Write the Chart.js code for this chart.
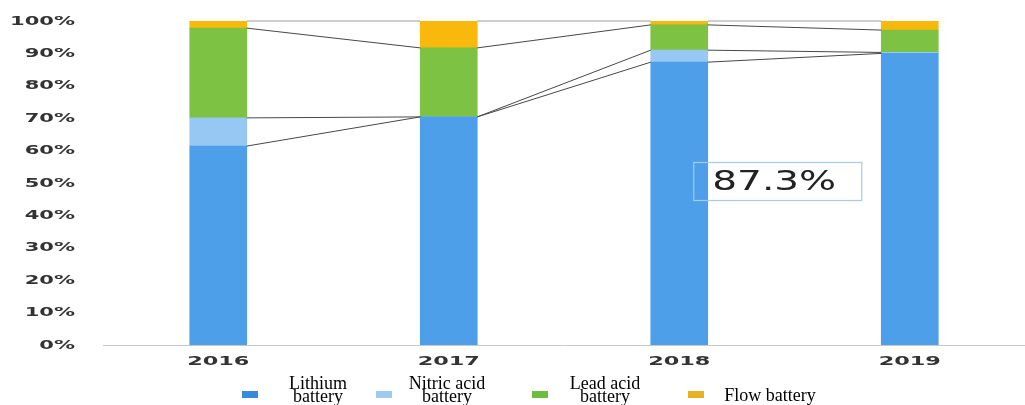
<!DOCTYPE html>
<html>
<head>
<meta charset="utf-8">
<script src="https://cdn.jsdelivr.net/npm/chart.js@4/dist/chart.umd.min.js"></script>
<style>
  html, body { margin: 0; padding: 0; background: #fff; }
  #wrap { width: 1025px; height: 405px; position: relative; }
</style>
</head>
<body>
<div id="wrap"><canvas id="c" width="1025" height="405"></canvas></div>
<script>
// ---- data ----
const years = ['2016', '2017', '2018', '2019'];
const lithium = [61.4, 70.4, 87.3, 90.0];
const nitricAcid = [8.7, 0.0, 3.7, 0.3];
const leadAcid = [27.7, 21.3, 7.8, 6.9];
const flow = [2.2, 8.3, 1.2, 2.8];
const seriesNames = [['Lithium', 'battery'], ['Nitric acid', 'battery'], ['Lead acid', 'battery'], ['Flow battery']];
const yTicks = [0, 10, 20, 30, 40, 50, 60, 70, 80, 90, 100];
const calloutIndex = 2; // 2018 lithium share callout

const barColors = ['#4c9fe8', '#97c8f3', '#7dc242', '#f8b90c'];
const legendColors = ['#3a8ad8', '#9ccaf0', '#6cbf3e', '#e9b222'];

function stretchText(ctx, text, x, y, align, sx) {
  ctx.save();
  ctx.translate(x, y);
  ctx.scale(sx, 1);
  ctx.textAlign = align;
  ctx.fillText(text, 0, 0);
  ctx.restore();
}

const customDraw = {
  id: 'customDraw',
  afterDatasetsDraw(chart) {
    const ctx = chart.ctx;
    const ys = chart.scales.y;
    const ds = chart.data.datasets;
    const metas = ds.map((d, i) => chart.getDatasetMeta(i));
    const n = chart.data.labels.length;
    // connector lines between stacked segment tops
    for (let i = 0; i < n - 1; i++) {
      const b0 = metas[0].data[i], b1 = metas[0].data[i + 1];
      const xr = b0.x + b0.width / 2, xl = b1.x - b1.width / 2;
      let c0 = 0, c1 = 0;
      for (let k = 0; k < ds.length; k++) {
        c0 += ds[k].data[i]; c1 += ds[k].data[i + 1];
        ctx.save();
        ctx.beginPath();
        ctx.lineWidth = 1;
        ctx.strokeStyle = (k === ds.length - 1) ? '#9a9a9a' : '#474747';
        ctx.moveTo(xr, ys.getPixelForValue(Math.min(c0, 100)));
        ctx.lineTo(xl, ys.getPixelForValue(Math.min(c1, 100)));
        ctx.stroke();
        ctx.restore();
      }
    }
    // callout box
    const bar = metas[0].data[calloutIndex];
    const bx = bar.x + 14, by = ys.getPixelForValue(50) - 21;
    ctx.save();
    ctx.strokeStyle = '#a9c9ea';
    ctx.lineWidth = 1.2;
    ctx.strokeRect(bx + 0.5, by + 0.5, 168, 38);
    ctx.fillStyle = '#222';
    ctx.font = '26px "DejaVu Sans"';
    ctx.textBaseline = 'middle';
    stretchText(ctx, ds[0].data[calloutIndex].toFixed(1) + '%', bx + 19, by + 21, 'left', 1.5);
    ctx.restore();
  },
  afterDraw(chart) {
    const ctx = chart.ctx;
    const ys = chart.scales.y, xs = chart.scales.x;
    ctx.save();
    // y tick labels
    ctx.fillStyle = '#333';
    ctx.font = 'bold 12px "DejaVu Sans"';
    ctx.textBaseline = 'middle';
    yTicks.forEach(v => {
      stretchText(ctx, v + '%', 75, ys.getPixelForValue(v) + 0.5, 'right', 1.75);
    });
    // x tick labels
    ctx.font = 'bold 13px "DejaVu Sans"';
    chart.data.labels.forEach((lab, i) => {
      stretchText(ctx, lab, xs.getPixelForValue(i), 362, 'center', 1.72);
    });
    // legend
    const markerX = [242, 376, 532, 688];
    const textX = [318, 447, 605, 770];
    ctx.font = '18px "Liberation Serif"';
    ctx.textBaseline = 'alphabetic';
    ctx.textAlign = 'center';
    chart.data.datasets.forEach((d, i) => {
      ctx.fillStyle = legendColors[i];
      ctx.fillRect(markerX[i], 391, 16, 7);
      ctx.fillStyle = '#000';
      const lines = seriesNames[i];
      if (lines.length === 1) {
        ctx.fillText(lines[0], textX[i], 401);
      } else {
        lines.forEach((t, j) => ctx.fillText(t, textX[i], 389 + j * 13));
      }
    });
    ctx.restore();
  }
};

new Chart(document.getElementById('c'), {
  type: 'bar',
  data: {
    labels: years,
    datasets: [
      { label: seriesNames[0].join(' '), data: lithium, backgroundColor: barColors[0] },
      { label: seriesNames[1].join(' '), data: nitricAcid, backgroundColor: barColors[1] },
      { label: seriesNames[2].join(' '), data: leadAcid, backgroundColor: barColors[2] },
      { label: seriesNames[3].join(' '), data: flow, backgroundColor: barColors[3] }
    ]
  },
  options: {
    responsive: false,
    animation: false,
    devicePixelRatio: 1,
    layout: { padding: { top: 21, right: 0, left: 0, bottom: 0 } },
    datasets: { bar: { barThickness: 57, borderWidth: 0 } },
    plugins: { legend: { display: false }, tooltip: { enabled: false } },
    scales: {
      x: {
        stacked: true,
        grid: { display: false },
        border: { display: true, color: '#c8c8c8', dash: [3, 3], width: 1 },
        ticks: { display: false },
        afterFit(s) { s.height = 60; }
      },
      y: {
        stacked: true,
        min: 0, max: 100,
        grid: { display: false },
        border: { display: false },
        ticks: { display: false, stepSize: 10 },
        afterFit(s) { s.width = 103; }
      }
    }
  },
  plugins: [customDraw]
});
</script>
</body>
</html>
